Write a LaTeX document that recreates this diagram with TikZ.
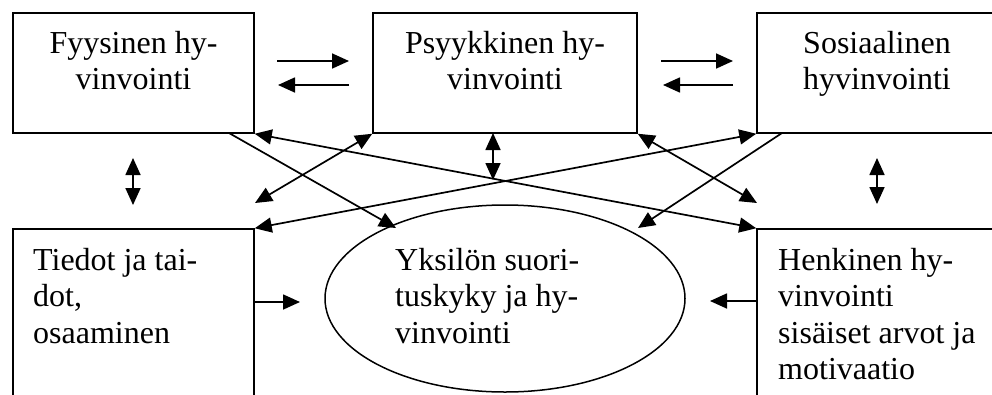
\documentclass[tikz,border=0pt]{standalone}
\usepackage{fontspec}
\setmainfont{Liberation Serif}
\usetikzlibrary{arrows.meta,shapes.geometric}
\begin{document}
\begin{tikzpicture}[x=1pt,y=-1pt,
  box/.style={draw, line width=1.5pt, inner sep=0pt, rectangle},
  oval/.style={draw, line width=1.5pt, inner sep=0pt, ellipse},
  lbl/.style={inner sep=0pt, anchor=base, font=\fontsize{32}{36.5}\selectfont},
  arr/.style={line width=1.7pt, -{Triangle[length=17pt,width=15pt]}},
  darr/.style={line width=1.7pt, {Triangle[length=17pt,width=15pt]}-{Triangle[length=17pt,width=15pt]}}]
\useasboundingbox (0,0) rectangle (992,394);
\clip (0,0) rectangle (992,394);
% boxes
\node[box, minimum width=241pt, minimum height=120pt] (fys) at (133.5,73) {};
\node[box, minimum width=264pt, minimum height=120pt] (psy) at (505,73) {};
\node[box, minimum width=238pt, minimum height=120pt] (sos) at (876,73) {};
\node[box, minimum width=241pt, minimum height=201pt] (tie) at (133.5,329.5) {};
\node[box, minimum width=238pt, minimum height=201pt] (hen) at (876,329.5) {};
\node[oval, minimum width=360pt, minimum height=187pt] (yks) at (505,298.5) {};
% texts
\node[lbl] (fyst) at (133.5,53) {\begin{tabular}[t]{@{}c@{}}Fyysinen hy-\\vinvointi\end{tabular}};
\node[lbl] (psyt) at (505,53) {\begin{tabular}[t]{@{}c@{}}Psyykkinen hy-\\vinvointi\end{tabular}};
\node[lbl] (sost) at (877,53) {\begin{tabular}[t]{@{}c@{}}Sosiaalinen\\hyvinvointi\end{tabular}};
\node[lbl, anchor=base west] (tiet) at (33,270) {\begin{tabular}[t]{@{}l@{}}Tiedot ja tai-\\dot,\\osaaminen\end{tabular}};
\node[lbl, anchor=base west] (ykst) at (395,270) {\begin{tabular}[t]{@{}l@{}}Yksilön suori-\\tuskyky ja hy-\\vinvointi\end{tabular}};
\node[lbl, anchor=base west] (hent) at (778,270) {\begin{tabular}[t]{@{}l@{}}Henkinen hy-\\vinvointi\\sisäiset arvot ja\\motivaatio\end{tabular}};
% free ends
\coordinate (a1s) at (277,61);  \coordinate (a1e) at (349,61);
\coordinate (a2s) at (349,85);  \coordinate (a2e) at (278,85);
\coordinate (a3s) at (661,61);  \coordinate (a3e) at (733,61);
\coordinate (a4s) at (733,85);  \coordinate (a4e) at (663,85);
\coordinate (v1s) at (133,158); \coordinate (v1e) at (133,205);
\coordinate (v2s) at (493,133); \coordinate (v2e) at (493,180);
\coordinate (v3s) at (877,158); \coordinate (v3e) at (877,204);
\coordinate (fysb) at (229,133); \coordinate (ytl) at (396,228);
\coordinate (sosb) at (782,133); \coordinate (ytr) at (638,228);
\coordinate (tl) at (255,203);   \coordinate (tr) at (757,203);
\coordinate (tier) at (254,302); \coordinate (tiee) at (300,302);
\coordinate (henl) at (757,301); \coordinate (hene) at (710,301);
% connectors
\draw[arr] (a1s) -- (a1e);
\draw[arr] (a2s) -- (a2e);
\draw[arr] (a3s) -- (a3e);
\draw[arr] (a4s) -- (a4e);
\draw[darr] (v1s) -- (v1e);
\draw[darr] (v2s) -- (v2e);
\draw[darr] (v3s) -- (v3e);
\draw[arr] (fysb) -- (ytl);
\draw[arr] (sosb) -- (ytr);
\draw[darr] (psy.south west) -- (tl);
\draw[darr] (psy.south east) -- (tr);
\draw[darr] (fys.south east) -- (hen.north west);
\draw[darr] (tie.north east) -- (sos.south west);
\draw[arr] (tier) -- (tiee);
\draw[arr] (henl) -- (hene);
\end{tikzpicture}
\end{document}
